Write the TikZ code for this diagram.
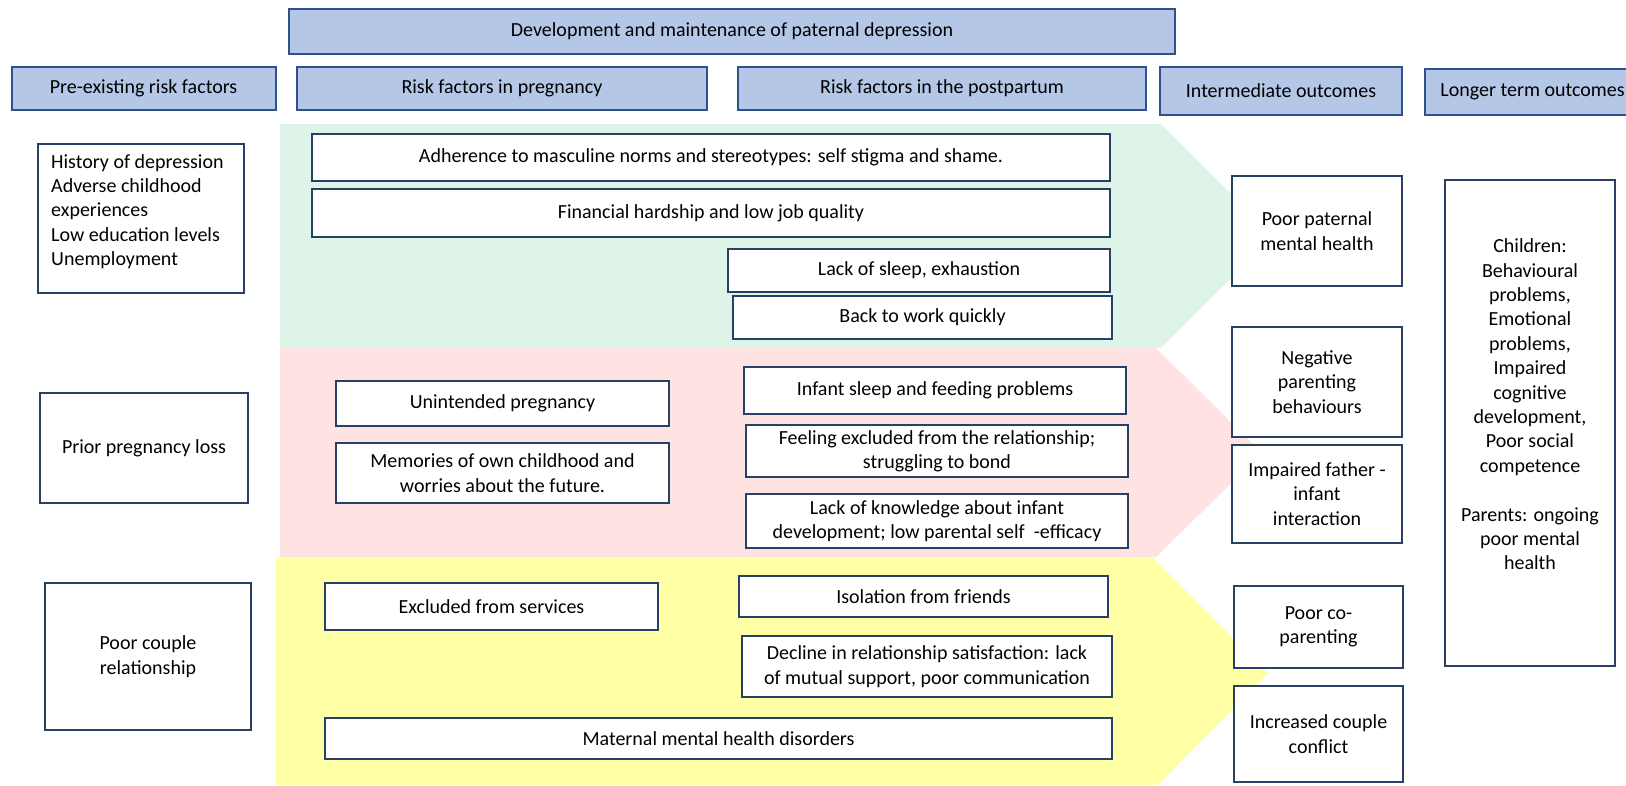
\documentclass[tikz,border=0pt]{standalone}
\usepackage{fontspec}
\setmainfont{Carlito}
\definecolor{headfill}{RGB}{180,199,231}
\definecolor{headline}{RGB}{47,82,143}
\definecolor{boxline}{RGB}{40,64,100}
\definecolor{greenband}{RGB}{223,244,232}
\definecolor{pinkband}{RGB}{255,227,227}
\definecolor{yellowband}{RGB}{255,255,165}
\tikzset{
	basefont/.style={font=\fontsize{20pt}{24.4pt}\selectfont},
	headstyle/.style={basefont, draw=headline, fill=headfill, line width=2pt, inner sep=0pt},
	factorstyle/.style={basefont, draw=boxline, fill=white, line width=2.4pt, inner sep=0pt, align=center},
	bandstyle/.style={draw=none}
}

\begin{document}
\begin{tikzpicture}[x=1pt, y=-1pt]
	\useasboundingbox (0,0) rectangle (1626,785);
	% coloured bands
	\fill[greenband] (280,124) -- (1161,124) -- (1273,236) -- (1161,348) -- (280,348) -- cycle;
	\fill[pinkband] (280,348) -- (1156,348) -- (1262,453) -- (1156,557) -- (280,557) -- cycle;
	\fill[yellowband] (276,557) -- (1152,557) -- (1268,673) -- (1158,785) -- (276,785) -- cycle;
	% headings
	\node[headstyle, minimum width=886, minimum height=45] (title) at (732,31.5) {Development and maintenance of paternal depression};
	\node[headstyle, minimum width=264, minimum height=43] (hpre) at (143.5,88.5) {Pre-existing risk factors};
	\node[headstyle, minimum width=410, minimum height=43] (hpreg) at (502,88.5) {Risk factors in pregnancy};
	\node[headstyle, minimum width=408, minimum height=43] (hpost) at (942,88.5) {Risk factors in the postpartum};
	\node[headstyle, minimum width=242, minimum height=48] (hinter) at (1281,91) {Intermediate outcomes};
	\node[headstyle, minimum width=215, minimum height=46] (hlong) at (1532.5,92) {Longer term outcomes};
	% pre-existing
	\node[factorstyle, minimum width=206, minimum height=149] (hist) at (141,218.5) {};
	\node[basefont, align=left, anchor=north west, inner sep=0pt] (histtext) at (51,154) {History of depression\\Adverse childhood\\experiences\\Low education levels\\Unemployment};
	\node[factorstyle, minimum width=208, minimum height=110] (prior) at (144,448) {Prior pregnancy loss};
	\node[factorstyle, minimum width=206, minimum height=147] (couple) at (148,656.5) {Poor couple\\relationship};
	% green band
	\node[factorstyle, minimum width=798, minimum height=47] (adher) at (711,157.5) {Adherence to masculine norms and stereotypes: self stigma and shame.};
	\node[factorstyle, minimum width=798, minimum height=48] (finan) at (711,213) {Financial hardship and low job quality};
	\node[factorstyle, minimum width=382, minimum height=43] (sleep) at (919,270.5) {Lack of sleep, exhaustion};
	\node[factorstyle, minimum width=379, minimum height=43] (work) at (922.5,317.5) {Back to work quickly};
	% pink band
	\node[factorstyle, minimum width=333, minimum height=45] (unint) at (502.5,403.5) {Unintended pregnancy};
	\node[factorstyle, minimum width=333, minimum height=60] (memor) at (502.5,473) {Memories of own childhood and\\worries about the future.};
	\node[factorstyle, minimum width=382, minimum height=47] (infant) at (935,390.5) {Infant sleep and feeding problems};
	\node[factorstyle, minimum width=382, minimum height=52] (feel) at (937,451) {Feeling excluded from the relationship;\\struggling to bond};
	\node[factorstyle, minimum width=382, minimum height=54] (knowl) at (937,521) {Lack of knowledge about infant\\development; low parental self~~-efficacy};
	% yellow band
	\node[factorstyle, minimum width=333, minimum height=47] (exclud) at (491.5,606.5) {Excluded from services};
	\node[factorstyle, minimum width=369, minimum height=41] (isol) at (923.5,596.5) {Isolation from friends};
	\node[factorstyle, minimum width=370, minimum height=61] (decl) at (927,666.5) {Decline in relationship satisfaction: lack\\of mutual support, poor communication};
	\node[factorstyle, minimum width=787, minimum height=41] (matern) at (718.5,738.5) {Maternal mental health disorders};
	% intermediate outcomes
	\node[factorstyle, minimum width=170, minimum height=110] (paternal) at (1317,231) {Poor paternal\\mental health};
	\node[factorstyle, minimum width=170, minimum height=110] (negpar) at (1317,382) {Negative\\parenting\\behaviours};
	\node[factorstyle, minimum width=170, minimum height=98] (impair) at (1317,494) {Impaired father -\\infant\\interaction};
	\node[factorstyle, minimum width=169, minimum height=82] (copar) at (1318.5,627) {Poor co-\\parenting};
	\node[factorstyle, minimum width=169, minimum height=96] (conflict) at (1318.5,734) {Increased couple\\conflict};
	% longer term outcomes
	\node[factorstyle, minimum width=170, minimum height=486] (longer) at (1530,423) {};
	\node[basefont, align=center, inner sep=0pt] (longtext) at (1530,404.5) {Children:\\Behavioural\\problems,\\Emotional\\problems,\\Impaired\\cognitive\\development,\\Poor social\\competence\\[24.4pt]Parents: ongoing\\poor mental\\health};
\end{tikzpicture}
\end{document}
